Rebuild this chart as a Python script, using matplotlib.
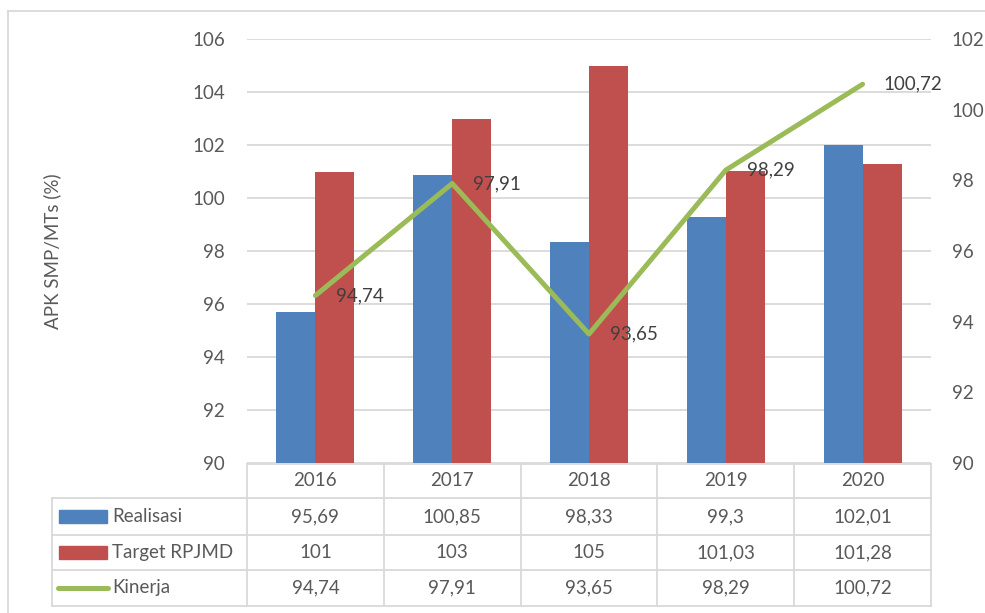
import matplotlib
matplotlib.use("Agg")
import matplotlib.pyplot as plt
import numpy as np
from matplotlib.lines import Line2D
from matplotlib.patches import Rectangle

years = ["2016", "2017", "2018", "2019", "2020"]
realisasi = [95.69, 100.85, 98.33, 99.3, 102.01]
target = [101, 103, 105, 101.03, 101.28]
kinerja = [94.74, 97.91, 93.65, 98.29, 100.72]
series_names = ["Realisasi", "Target RPJMD", "Kinerja"]

BLUE = "#4F81BD"
RED = "#C0504D"
GREEN = "#9BBB59"
GRID = "#D9D9D9"
TXT = "#595959"
LBL = "#404040"

plt.rcParams["font.family"] = ["Lato", "DejaVu Sans"]
FS = 13.5

W, H = 985, 613


def fx(px):
    return px / W


def fy(py):
    return 1 - py / H


def fmt(v):
    return f"{v:g}".replace(".", ",")


fig = plt.figure(figsize=(W / 100, H / 100), dpi=100)

# plot area in pixel terms: x 247..931, y 39..463
ax = fig.add_axes([fx(247), fy(463), fx(931 - 247), (463 - 39) / H])
x = np.arange(len(years))
w = 1 / 3.5
ax.bar(x - w / 2, realisasi, w, color=BLUE, zorder=2)
ax.bar(x + w / 2, target, w, color=RED, zorder=2)
ax.set_xlim(-0.5, len(years) - 0.5)
ax.set_ylim(90, 106)
ax.set_yticks(np.arange(90, 107, 2))
ax.yaxis.grid(True, color=GRID, lw=1.3, zorder=0)
ax.set_axisbelow(True)
ax.set_xticks([])
ax.tick_params(axis="y", length=0, pad=16, labelsize=FS, labelcolor=TXT)
for s in ax.spines.values():
    s.set_visible(False)

ax2 = ax.twinx()
ax2.plot(x, kinerja, color=GREEN, lw=3.6, zorder=3, solid_capstyle="round")
ax2.set_ylim(90, 102)
ax2.set_yticks(np.arange(90, 103, 2))
ax2.tick_params(axis="y", length=0, pad=15, labelsize=FS, labelcolor=TXT)
for s in ax2.spines.values():
    s.set_visible(False)
for xi, v in zip(x, kinerja):
    ax2.annotate(fmt(v), (xi, v), xytext=(15, 0), textcoords="offset points",
                 ha="left", va="center", fontsize=FS, color=LBL)

fig.text(fx(52), fy(251), "APK SMP/MTs (%)", rotation=90, ha="center",
         va="center", fontsize=FS, color=TXT)

# data table under the plot
ov = fig.add_axes([0, 0, 1, 1], zorder=5)
ov.set_xlim(0, W)
ov.set_ylim(H, 0)
ov.axis("off")

col_edges = np.linspace(247, 931, len(years) + 1)
row_edges = [464, 498, 535, 570, 606]
tl = dict(color=GRID, lw=1.3)

ov.add_line(Line2D([col_edges[0], col_edges[-1]], [row_edges[0]] * 2, **tl))
for ry in row_edges[1:]:
    ov.add_line(Line2D([52, col_edges[-1]], [ry, ry], **tl))
for cx in col_edges:
    ov.add_line(Line2D([cx, cx], [row_edges[0], row_edges[-1]], **tl))
ov.add_line(Line2D([52, 52], [row_edges[1], row_edges[-1]], **tl))

centers = (col_edges[:-1] + col_edges[1:]) / 2
for cx, yr in zip(centers, years):
    ov.text(cx, (row_edges[0] + row_edges[1]) / 2, yr, ha="center",
            va="center", fontsize=FS, color=TXT)

rows = [realisasi, target, kinerja]
for i, (name, vals) in enumerate(zip(series_names, rows)):
    cy = (row_edges[i + 1] + row_edges[i + 2]) / 2
    if i < 2:
        ov.add_patch(Rectangle((59, cy - 6.5), 48, 13,
                               color=[BLUE, RED][i]))
    else:
        ov.add_line(Line2D([58, 108], [cy, cy], color=GREEN, lw=3.6,
                           solid_capstyle="round"))
    ov.text(112, cy, name, ha="left", va="center", fontsize=FS, color=TXT)
    for cx, v in zip(centers, vals):
        ov.text(cx, cy, fmt(v), ha="center", va="center", fontsize=FS,
                color=TXT)

# chart frame
ov.add_line(Line2D([8, 8], [11, H], **tl))
ov.add_line(Line2D([8, W], [11, 11], **tl))

fig.savefig("out.png", dpi=100)
